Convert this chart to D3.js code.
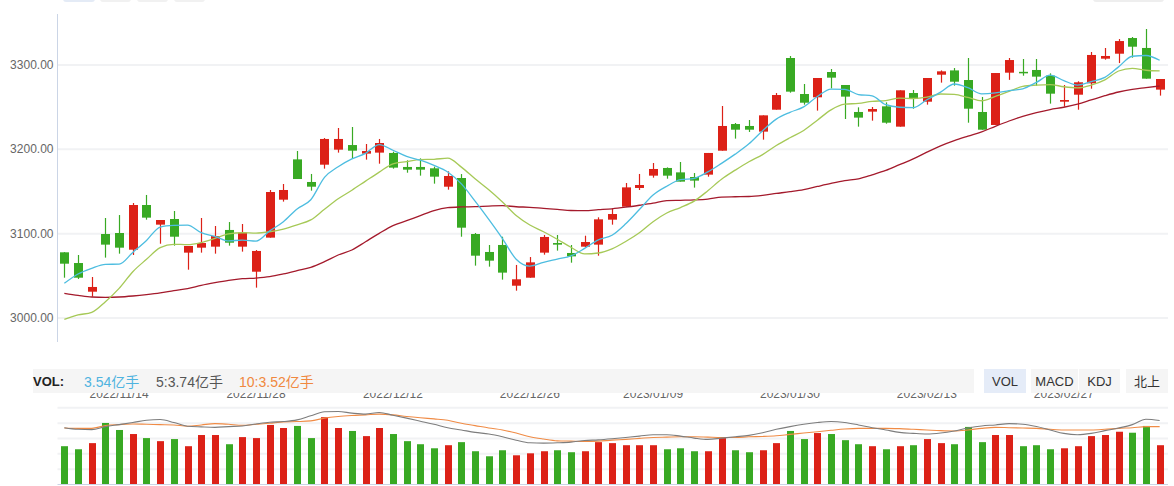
<!DOCTYPE html>
<html><head><meta charset="utf-8">
<script src="https://cdn.jsdelivr.net/npm/d3@7"></script>
<style>
html,body{margin:0;padding:0;background:#fff;}
svg{display:block;font-family:"Liberation Sans",Arial,"Noto Sans CJK SC",sans-serif;}
</style></head>
<body><svg id="c" width="1174" height="486"></svg>
<script>
const dates = [
"2022/11/08","2022/11/09","2022/11/10","2022/11/11","2022/11/14","2022/11/15","2022/11/16","2022/11/17","2022/11/18",
"2022/11/21","2022/11/22","2022/11/23","2022/11/24","2022/11/25","2022/11/28","2022/11/29","2022/11/30",
"2022/12/01","2022/12/02","2022/12/05","2022/12/06","2022/12/07","2022/12/08","2022/12/09","2022/12/12","2022/12/13",
"2022/12/14","2022/12/15","2022/12/16","2022/12/19","2022/12/20","2022/12/21","2022/12/22","2022/12/23","2022/12/26",
"2022/12/27","2022/12/28","2022/12/29","2022/12/30",
"2023/01/03","2023/01/04","2023/01/05","2023/01/06","2023/01/09","2023/01/10","2023/01/11","2023/01/12","2023/01/13",
"2023/01/16","2023/01/17","2023/01/18","2023/01/19","2023/01/20","2023/01/30","2023/01/31",
"2023/02/01","2023/02/02","2023/02/03","2023/02/06","2023/02/07","2023/02/08","2023/02/09","2023/02/10","2023/02/13",
"2023/02/14","2023/02/15","2023/02/16","2023/02/17","2023/02/20","2023/02/21","2023/02/22","2023/02/23","2023/02/24",
"2023/02/27","2023/02/28","2023/03/01","2023/03/02","2023/03/03","2023/03/06","2023/03/07","2023/03/08"];

const opens = [3077.3,3064.6,3030.6,3099.0,3100.2,3080.4,3133.4,3110.1,3116.8,3076.9,
3082.8,3084.0,3103.8,3084.0,3054.3,3094.7,3139.7,3187.5,3160.7,3181.2,
3199.0,3204.5,3194.3,3195.5,3195.1,3178.5,3178.5,3176.9,3155.1,3165.4,
3099.0,3077.7,3086.0,3037.7,3047.2,3076.9,3088.3,3076.5,3084.0,3086.4,
3116.0,3131.4,3153.6,3168.2,3177.3,3172.1,3166.6,3169.4,3197.8,3229.4,
3227.1,3220.4,3246.4,3307.7,3265.0,3261.1,3291.1,3275.7,3243.7,3244.1,
3250.4,3226.3,3266.2,3255.9,3287.9,3293.0,3281.6,3243.7,3228.3,3290.3,
3291.3,3293.5,3286.8,3255.9,3264.2,3277.7,3306.9,3312.8,3331.4,3319.6,3270.2];
const highs = [3077.5,3074.1,3048.0,3118.0,3121.5,3135.8,3145.3,3115.6,3126.3,3084.8,
3118.0,3108.5,3113.2,3110.9,3080.0,3151.2,3158.3,3197.4,3170.2,3212.8,
3224.7,3225.9,3205.7,3211.7,3196.6,3186.4,3188.7,3178.9,3173.3,3170.1,
3100.2,3086.0,3095.8,3062.3,3071.7,3097.8,3097.8,3086.0,3097.0,3118.8,
3129.4,3159.5,3170.2,3183.2,3178.0,3184.4,3171.3,3195.1,3250.8,3230.6,
3234.2,3239.7,3266.2,3310.1,3276.9,3284.0,3294.7,3275.7,3249.2,3249.6,
3255.1,3269.4,3269.8,3284.0,3293.0,3295.8,3307.7,3261.5,3289.9,3307.7,
3306.5,3306.5,3289.5,3275.7,3280.1,3314.8,3319.6,3330.2,3332.6,3342.1,3282.8];
const lows = [3047.2,3045.7,3024.7,3071.0,3075.7,3074.1,3116.0,3087.5,3085.2,3056.7,
3076.9,3075.7,3085.2,3078.1,3035.4,3094.7,3137.4,3164.2,3150.4,3176.5,
3195.5,3188.3,3187.2,3182.4,3176.5,3171.7,3168.2,3158.7,3151.6,3095.8,
3061.5,3060.3,3044.9,3031.8,3047.2,3074.5,3079.3,3065.0,3083.6,3073.3,
3110.1,3131.4,3151.2,3165.8,3164.6,3161.1,3154.0,3167.0,3197.8,3212.1,
3220.0,3210.9,3246.4,3266.6,3252.4,3245.3,3271.7,3235.4,3226.3,3233.4,
3229.8,3226.3,3247.6,3252.4,3278.5,3274.9,3231.0,3222.7,3228.3,3281.8,
3286.7,3274.9,3253.6,3250.0,3246.4,3271.3,3305.7,3301.7,3308.1,3283.2,3263.1];
const closes = [3063.8,3047.2,3036.2,3086.4,3082.8,3133.4,3118.4,3115.6,3095.8,3084.8,
3088.3,3096.6,3088.7,3100.6,3078.9,3148.8,3151.2,3164.2,3155.1,3211.7,
3211.7,3197.8,3197.4,3206.9,3177.7,3175.3,3175.3,3167.0,3167.8,3106.5,
3073.3,3067.4,3053.2,3045.3,3065.4,3095.5,3086.4,3072.5,3089.5,3116.4,
3122.7,3154.3,3157.1,3176.1,3168.2,3161.1,3162.3,3195.1,3227.1,3222.7,
3222.7,3239.7,3263.8,3267.8,3254.7,3284.0,3284.4,3261.9,3237.0,3247.2,
3231.0,3269.4,3259.5,3284.0,3291.9,3279.6,3247.6,3222.7,3289.9,3305.3,
3290.3,3285.6,3265.4,3257.9,3278.9,3311.3,3310.1,3327.8,3321.1,3283.2,3282.8];

const ma5 = [3040.5,3051.6,3058.3,3063.0,3063.3,3077.2,3091.4,3107.3,3109.2,3109.6,
3100.6,3096.2,3090.8,3091.8,3090.6,3102.7,3113.6,3128.7,3139.6,3166.2,
3178.8,3188.1,3194.7,3205.1,3198.3,3191.0,3186.5,3180.4,3172.6,3158.4,
3138.0,3116.4,3093.6,3069.1,3060.9,3065.4,3069.2,3073.0,3081.9,3092.1,
3097.5,3111.1,3128.0,3145.3,3155.7,3163.4,3165.0,3172.6,3182.8,3193.7,
3206.0,3221.5,3235.2,3243.3,3249.7,3262.0,3270.9,3270.6,3264.4,3262.9,
3252.3,3249.3,3248.8,3258.2,3267.2,3276.9,3272.5,3265.2,3266.3,3269.0,
3271.2,3278.8,3287.3,3280.9,3275.6,3279.8,3284.7,3297.2,3309.8,3310.7,3305.0];
const ma10 = [2997.8,3003.0,3006.1,3018.8,3034.6,3054.3,3069.0,3082.8,3086.8,3086.4,
3088.9,3093.8,3099.1,3100.5,3100.1,3101.7,3104.9,3109.8,3115.7,3128.4,
3140.8,3150.9,3161.7,3172.4,3182.3,3184.9,3187.3,3187.6,3188.9,3178.3,
3164.5,3151.5,3137.0,3120.9,3109.7,3101.7,3092.8,3083.3,3075.5,3076.5,
3081.4,3090.1,3100.5,3113.6,3123.9,3130.4,3138.0,3150.3,3164.0,3174.7,
3184.7,3193.2,3203.9,3213.1,3221.7,3234.0,3246.2,3252.9,3253.9,3256.3,
3257.2,3260.1,3259.7,3261.3,3265.0,3264.6,3260.9,3257.0,3262.3,3268.1,
3274.0,3275.6,3276.2,3273.6,3272.3,3275.5,3281.7,3292.3,3295.4,3293.2,3292.4];
const ma30 = [3028.7,3026.3,3024.3,3023.9,3024.3,3025.5,3027.1,3029.1,3031.8,3034.2,
3038.1,3041.3,3044.1,3046.1,3046.8,3048.4,3051.6,3055.5,3059.5,3066.2,
3074.1,3080.0,3089.9,3099.8,3108.9,3114.8,3120.8,3126.7,3130.2,3131.1,
3131.4,3132.1,3132.6,3131.3,3130.7,3129.4,3128.3,3126.9,3126.7,3127.8,
3128.9,3130.8,3133.1,3135.6,3138.6,3139.0,3139.4,3140.4,3142.8,3143.2,
3143.5,3144.9,3147.1,3149.2,3151.7,3155.4,3159.0,3162.2,3164.5,3169.2,
3174.4,3181.2,3188.0,3196.0,3203.5,3209.7,3215.0,3220.1,3226.7,3233.0,
3238.6,3243.0,3246.6,3249.3,3253.0,3258.0,3263.0,3267.4,3270.5,3272.5,3274.5];

// volume (亿手)
const volumes = [3.45,3.17,3.73,5.57,4.93,4.56,4.19,3.91,4.10,3.45,
4.47,4.47,3.63,4.28,4.19,5.39,5.11,5.30,4.19,6.10,
5.11,4.84,4.37,5.11,4.56,3.91,3.63,3.26,3.54,3.82,
2.99,2.53,3.08,2.62,2.80,2.99,3.08,2.90,2.99,3.82,
3.73,3.54,3.54,3.54,3.17,3.26,2.99,2.99,4.19,3.08,
2.90,3.08,3.73,4.84,4.10,4.65,4.56,4.00,3.63,3.45,
3.17,3.45,3.54,4.10,3.73,3.63,5.21,3.82,4.47,4.47,
3.45,3.54,3.17,3.26,3.45,4.37,4.47,4.77,4.68,5.30,3.54];
const volMa5 = [5.14,4.99,4.96,5.24,5.42,5.61,5.82,5.88,5.61,5.27,
5.21,5.17,5.24,5.30,5.48,5.64,5.70,5.85,6.22,6.59,
6.62,6.47,6.38,6.53,6.28,6.01,5.73,5.45,5.14,4.93,
4.71,4.56,4.31,4.00,3.76,3.73,3.76,3.82,3.97,4.03,
4.13,4.25,4.37,4.50,4.50,4.37,4.19,4.07,4.19,4.31,
4.44,4.68,4.99,5.24,5.45,5.61,5.70,5.61,5.39,5.14,
4.93,4.71,4.62,4.56,4.65,4.84,5.11,5.30,5.39,5.51,
5.45,5.24,4.93,4.62,4.50,4.62,4.87,5.11,5.42,5.91,5.79];
const volMa10 = [5.11,5.08,5.08,5.33,5.42,5.48,5.45,5.42,5.39,5.27,
5.39,5.51,5.45,5.36,5.45,5.54,5.67,5.70,5.76,6.01,
6.16,6.25,6.31,6.38,6.31,6.16,6.04,5.94,5.82,5.54,
5.33,5.11,4.93,4.65,4.31,4.10,3.94,3.91,3.88,3.91,
4.00,4.07,4.16,4.25,4.28,4.31,4.31,4.28,4.25,4.25,
4.31,4.34,4.40,4.53,4.65,4.77,4.90,5.02,5.08,5.08,
5.08,5.05,4.99,4.93,4.87,4.84,4.93,5.08,5.17,5.14,
5.11,5.08,4.99,4.93,4.93,4.93,4.99,5.08,5.14,5.24,5.24];

const priceTicks = [3000, 3100, 3200, 3300];
const volTicks = [1.4, 2.8, 4.2, 5.6, 7.0];
const dateTicks = ["2022/11/14","2022/11/28","2022/12/12","2022/12/26","2023/01/09","2023/01/30","2023/02/13","2023/02/27"];
const legendItems = [
  {text:"3.54亿手", color:"#4fb3df"},
  {text:"5:3.74亿手", color:"#555555"},
  {text:"10:3.52亿手", color:"#f0883e"}
];
const tabs = ["VOL","MACD","KDJ","北上"];

const UP = "#dc2117", DOWN = "#38a923";
const svg = d3.select("#c");
const L = 57.5, R = 1166.5, GR = 1168;

const x = d3.scaleBand().domain(dates).range([L, R]);
const cx = d => x(d) + x.bandwidth()/2;
const y = d3.scaleLinear().domain([3000, 3300]).range([317.5, 64.5]);
const yv = d3.scaleLinear().domain([0, 7]).range([484, 407.3]);

// faint top tabs (cut off)
const topTabs = [[63,95,"#e4ebf6"],[100,131,"#f1f1f1"],[137,168,"#f1f1f1"],[174,205,"#f1f1f1"],[1093,1164,"#eeeeee"]];
svg.selectAll("rect.toptab").data(topTabs).enter().append("rect")
  .attr("x", d=>d[0]).attr("y", -8).attr("width", d=>d[1]-d[0]).attr("height", 10)
  .attr("rx", 3).attr("fill", d=>d[2]);

// price axis + grid
const ga = svg.append("g").attr("transform", `translate(${L},0)`)
  .call(d3.axisLeft(y).tickValues(priceTicks).tickSize(-(GR-L)).tickPadding(4).tickFormat(d3.format(".2f")));
ga.select(".domain").remove();
ga.selectAll(".tick line").attr("stroke", "#f1f2f4").attr("stroke-width", 2);
ga.selectAll(".tick text").attr("fill", "#666").style("font-size", "12px")
  .style("font-family", '"Liberation Sans",Arial,sans-serif');
svg.append("line").attr("x1", L).attr("x2", L).attr("y1", 14).attr("y2", 342)
  .attr("stroke", "#cbd5e6").attr("stroke-width", 1);

// candles
const idx = d3.range(dates.length);
const cg = svg.append("g");
cg.selectAll("line.wick").data(idx).enter().append("line")
  .attr("x1", i=>Math.round(cx(dates[i]))+0.5).attr("x2", i=>Math.round(cx(dates[i]))+0.5)
  .attr("y1", i=>y(highs[i])).attr("y2", i=>y(lows[i]))
  .attr("stroke", i=>closes[i]>=opens[i]?UP:DOWN).attr("stroke-width", 1.2);
cg.selectAll("rect.body").data(idx).enter().append("rect")
  .attr("x", i=>Math.round(cx(dates[i]))+0.5-4.5).attr("width", 9)
  .attr("y", i=>y(Math.max(opens[i], closes[i])))
  .attr("height", i=>Math.max(1.5, Math.abs(y(opens[i])-y(closes[i]))))
  .attr("fill", i=>closes[i]>=opens[i]?UP:DOWN);

// MA lines
const maLine = arr => d3.line().x((d,i)=>cx(dates[i])).y(d=>y(d)).curve(d3.curveMonotoneX)(arr);
[[ma30,"#a41a2c"],[ma10,"#a6c957"],[ma5,"#4dbde0"]].forEach(([arr,col])=>{
  svg.append("path").attr("d", maLine(arr)).attr("fill","none").attr("stroke",col).attr("stroke-width",1.3);
});

// date labels
svg.append("g").selectAll("text").data(dateTicks).enter().append("text")
  .attr("x", d=>cx(d)).attr("y", 397.5).attr("text-anchor","middle")
  .attr("fill","#666").style("font-size","12px").text(d=>d);

// legend bar
svg.append("rect").attr("x",33).attr("y",369).attr("width",941).attr("height",24).attr("fill","#f5f5f5");
svg.append("text").attr("x",33).attr("y",386).attr("fill","#222").style("font-size","13px")
  .style("font-weight","bold").text("VOL:");
const lx = [84, 156, 239];
svg.selectAll("text.leg").data(legendItems).enter().append("text")
  .attr("x",(d,i)=>lx[i]).attr("y",386.5).attr("fill",d=>d.color).style("font-size","14px").text(d=>d.text);
const tabX = [[984,1026],[1031,1078],[1079,1120],[1126,1168]];
tabs.forEach((t,i)=>{
  svg.append("rect").attr("x",tabX[i][0]).attr("y",369).attr("width",tabX[i][1]-tabX[i][0]).attr("height",24)
    .attr("fill", i===0?"#e5ecf8":"#f5f5f5");
  svg.append("text").attr("x",(tabX[i][0]+tabX[i][1])/2).attr("y",386).attr("text-anchor","middle")
    .attr("fill","#333").style("font-size","13px").text(t);
});

// volume grid
const gv = svg.append("g").attr("transform", `translate(${L},0)`)
  .call(d3.axisLeft(yv).tickValues(volTicks).tickSize(-(GR-L)).tickFormat(""));
gv.select(".domain").remove();
gv.selectAll(".tick line").attr("stroke","#f1f2f4").attr("stroke-width",2);
svg.append("line").attr("x1",L).attr("x2",GR).attr("y1",yv(0)+0.5).attr("y2",yv(0)+0.5)
  .attr("stroke","#cbd5e6");

// volume bars
svg.append("g").selectAll("rect").data(idx).enter().append("rect")
  .attr("x", i=>Math.round(cx(dates[i]))+0.5-3.5).attr("width",7)
  .attr("y", i=>yv(volumes[i])).attr("height", i=>yv(0)-yv(volumes[i]))
  .attr("fill", i=>closes[i]>=opens[i]?UP:DOWN);

const vLine = arr => d3.line().x((d,i)=>cx(dates[i])).y(d=>yv(d)).curve(d3.curveMonotoneX)(arr);
[[volMa10,"#f08b45"],[volMa5,"#7d7d7d"]].forEach(([arr,col])=>{
  svg.append("path").attr("d", vLine(arr)).attr("fill","none").attr("stroke",col).attr("stroke-width",1.1);
});
</script></body></html>
